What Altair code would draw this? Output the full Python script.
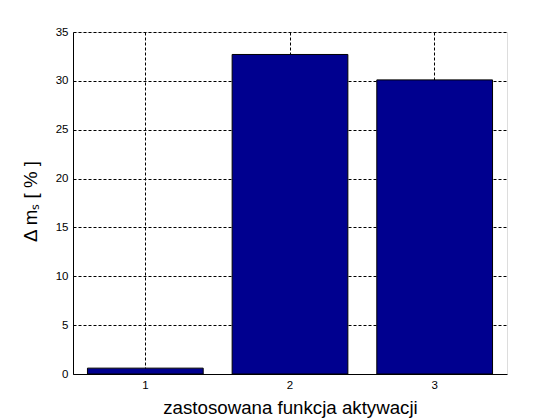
import altair as alt
import pandas as pd

categories = ["1", "2", "3"]
values = [0.6, 32.7, 30.1]
y_ticks = [0, 5, 10, 15, 20, 25, 30, 35]

df = pd.DataFrame({"cat": categories, "val": values})

FONT = "Liberation Sans"

chart = alt.Chart(df).mark_bar(
    color="#00008F", stroke="black", strokeWidth=1
).encode(
    x=alt.X(
        "cat:O",
        sort=categories,
        scale=alt.Scale(paddingInner=0.2, paddingOuter=0.1),
        axis=alt.Axis(
            title="zastosowana funkcja aktywacji",
            titleFont=FONT, titleFontSize=18.7, titleFontWeight="normal",
            titleColor="black", titleBaseline="alphabetic",
            titleX=217, titleY=39, titleAnchor="middle", titleAlign="center",
            labelAngle=0, labelFont=FONT, labelFontSize=11.5, labelColor="black",
            labelPadding=5, labelBaseline="top",
            ticks=False, domainColor="black", domainWidth=1,
            grid=True, gridColor="black", gridDash=[3, 2], gridWidth=1, gridOpacity=1,
            bandPosition=0.5,
        ),
    ),
    y=alt.Y(
        "val:Q",
        scale=alt.Scale(domain=[0, 35], nice=False),
        axis=alt.Axis(
            title="Δ mₛ [ % ]",
            values=y_ticks,
            titleFont=FONT, titleFontSize=18.7, titleFontWeight="normal",
            titleColor="black", titleBaseline="alphabetic",
            titleX=-37, titleY=169, titleAngle=-90, titleAlign="center",
            labelFont=FONT, labelFontSize=11.5, labelColor="black",
            labelPadding=5,
            ticks=False, domainColor="black", domainWidth=1,
            grid=True, gridColor="black", gridDash=[3, 2], gridWidth=1, gridOpacity=1,
        ),
    ),
).properties(
    width=434,
    height=342,
    autosize=alt.AutoSizeParams(type="none"),
    padding={"left": 65, "top": 24, "right": 45, "bottom": 46},
).configure_view(
    stroke="black", strokeWidth=1
).configure(background="white")

chart.save("out.html", embed_options={"renderer": "svg", "actions": False})
